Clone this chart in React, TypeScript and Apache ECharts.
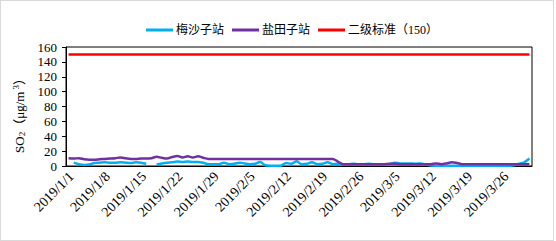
import React, { useEffect, useRef } from "react";
import * as echarts from "echarts";

const startDate = new Date(2019, 0, 1);
const dayCount = 90;
const categories: string[] = [];
for (let i = 0; i < dayCount; i++) {
  const d = new Date(startDate.getTime() + i * 86400000);
  categories.push(`${d.getFullYear()}/${d.getMonth() + 1}/${d.getDate()}`);
}

const meishaValues: (number | null)[] = [
  null, 4.5, 2.5, 1.5, 2, 4, 4.5, 5, 4.5, 4.5,
  5, 4.5, 4, 5, 4.5, 3, null, 2, 3.5, 4.5,
  5, 6, 5.5, 6, 5.5, 5.5, 4.5, 2.5, 2.5, 2.5,
  4.5, 2.5, 3, 4.5, 3.5, 2.5, 3, 5.5, 1, 0.5,
  0.5, 0.5, 4, 3, 6.5, 2.5, 3, 5, 2.5, 3,
  5, 2.5, 3, 2.5, 2.5, 3, 2.5, 2.5, 3, 2.5,
  2.5, 2, 2.5, 4.5, 3.5, 3.5, 3.5, 3, 3.5, 2,
  0.5, 0.3, 0.3, 0.3, 0.3, 0.3, 0.3, 0.3, 0.3, 0.3,
  0.3, 0.3, 0.3, 0.3, 0.3, 0.3, 1, 3, 5, 10,
];

const yantianValues: number[] = [
  10.5, 10, 10.5, 9, 8.5, 8.5, 9, 9.5, 10, 10.5,
  11.5, 10.5, 9.5, 9.5, 10, 10, 10.5, 12.5, 11, 10,
  12, 13.5, 11.5, 13, 11.5, 13, 11, 9.5, 9.5, 9.5,
  9.5, 9.5, 9.5, 9.5, 9.5, 9.5, 9.5, 9.5, 9.5, 9.5,
  9.5, 9.5, 9.5, 9.5, 9.5, 9.5, 9.5, 9.5, 9.5, 9.5,
  9.5, 9.5, 6, 2.5, 2.2, 2.2, 2.2, 2.2, 2.2, 2.2,
  2.2, 2.5, 3, 3, 2.5, 2.2, 2.2, 2.2, 2.2, 2.2,
  2.5, 3.5, 2.5, 3.5, 5, 4, 2.5, 2.2, 2.2, 2.2,
  2.2, 2.2, 2.2, 2.2, 2.2, 2.2, 2.2, 2.2, 2.2, 2.2,
];

const standardValue = 150;
const standardValues: number[] = categories.map(() => standardValue);

const seriesNames = ["梅沙子站", "盐田子站", "二级标准（150）"];
const yTicks = { min: 0, max: 160, interval: 20 };

const FONT = "'Liberation Serif', 'Times New Roman', 'Noto Sans CJK SC', serif";

export default function App() {
  const ref = useRef<HTMLDivElement>(null);
  useEffect(() => {
    if (!ref.current) return;
    const chart = echarts.init(ref.current, undefined, { renderer: "svg" });
    chart.setOption({
      animation: false,
      backgroundColor: "#ffffff",
      textStyle: { fontFamily: FONT, color: "#000" },
      legend: {
        top: 18,
        left: 140,
        itemWidth: 27,
        itemHeight: 3,
        itemGap: 8,
        icon: "rect",
        textStyle: { fontFamily: FONT, fontSize: 12, color: "#000", padding: [0, 0, 0, -2] },
        data: seriesNames,
      },
      grid: {
        left: 65,
        right: 21,
        top: 46,
        bottom: 74,
        show: true,
        borderColor: "#000",
        borderWidth: 1,
        backgroundColor: "transparent",
      },
      xAxis: {
        type: "category",
        data: categories,
        boundaryGap: true,
        axisLine: { lineStyle: { color: "#000", width: 1 } },
        axisTick: { interval: 6, alignWithLabel: false, length: 4, inside: false, lineStyle: { color: "#000" } },
        axisLabel: {
          interval: 6,
          rotate: 45,
          fontSize: 14,
          fontFamily: FONT,
          color: "#000",
          margin: 11,
          padding: [0, -4, 0, 0],
        },
        splitLine: { show: false },
      },
      yAxis: {
        type: "value",
        min: yTicks.min,
        max: yTicks.max,
        interval: yTicks.interval,
        axisLine: { show: true, lineStyle: { color: "#000", width: 1 } },
        axisTick: { show: true, length: 4, lineStyle: { color: "#000" } },
        axisLabel: { fontSize: 13, fontFamily: FONT, color: "#000", margin: 9 },
        splitLine: { show: false },
        name: "{a|SO}{s|2}{a|（μg/m}{p|3}{a|）}",
        nameLocation: "middle",
        nameRotate: 90,
        nameGap: 31,
        nameTextStyle: {
          fontFamily: FONT,
          fontSize: 13,
          color: "#000",
          padding: [0, 0, 0, -12],
          rich: {
            a: { fontFamily: FONT, fontSize: 13, color: "#000" },
            s: { fontFamily: FONT, fontSize: 9, color: "#000", verticalAlign: "bottom", padding: [6, 0, 0, 0] },
            p: { fontFamily: FONT, fontSize: 9, color: "#000", verticalAlign: "top", padding: [0, 0, 6, 2] },
          },
        },
      },
      series: [
        {
          name: seriesNames[0],
          type: "line",
          data: meishaValues,
          symbol: "none",
          smooth: 0.3,
          connectNulls: false,
          lineStyle: { color: "#00B0F0", width: 2.5 },
          itemStyle: { color: "#00B0F0" },
        },
        {
          name: seriesNames[1],
          type: "line",
          data: yantianValues,
          symbol: "none",
          smooth: 0.3,
          lineStyle: { color: "#7030A0", width: 2.5 },
          itemStyle: { color: "#7030A0" },
        },
        {
          name: seriesNames[2],
          type: "line",
          data: standardValues,
          symbol: "none",
          lineStyle: { color: "#FF0000", width: 2.5 },
          itemStyle: { color: "#FF0000" },
        },
      ],
    });
    return () => chart.dispose();
  }, []);
  return (
    <div
      style={{
        position: "absolute",
        left: 0,
        top: 0,
        width: 554,
        height: 241,
        border: "1px solid #d9d9d9",
        boxSizing: "border-box",
        background: "#fff",
      }}
    >
      <div ref={ref} style={{ width: 552, height: 239 }} />
    </div>
  );
}
